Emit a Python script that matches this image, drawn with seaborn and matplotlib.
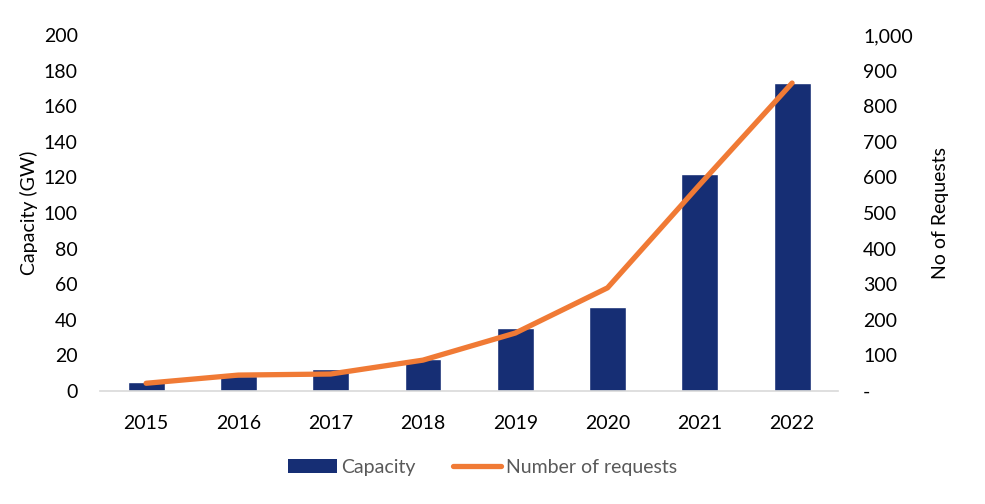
import numpy as np
import pandas as pd
import matplotlib
matplotlib.use("Agg")
import matplotlib.pyplot as plt
from matplotlib.ticker import FuncFormatter, MultipleLocator
from matplotlib.patches import Patch
from matplotlib.lines import Line2D
import seaborn as sns

years = ["2015", "2016", "2017", "2018", "2019", "2020", "2021", "2022"]
capacity_gw = [5, 8.5, 12.5, 18, 35.5, 47, 122, 173]
requests = [22, 45, 48, 87, 163, 290, 580, 865]

bar_color = "#162E74"
line_color = "#F07A35"

sns.set_theme(style="white")
plt.rcParams["font.family"] = ["Lato", "DejaVu Sans"]

df = pd.DataFrame({"year": years, "capacity": capacity_gw, "requests": requests})

fig = plt.figure(figsize=(9.85, 5.04), dpi=100)
ax = fig.add_axes([0.1015, 0.224, 0.7495, 0.7066])

FS = 14
sns.barplot(data=df, x="year", y="capacity", color=bar_color, width=0.4,
            saturation=1, ax=ax)
ax.set_ylim(0, 200)
ax.yaxis.set_major_locator(MultipleLocator(20))
ax.set_xlim(-0.5, len(years) - 0.5)
ax.set_xlabel("")
ax.set_ylabel("Capacity (GW)", fontsize=FS, color="black", labelpad=4)
ax.tick_params(axis="both", length=0, labelsize=FS, colors="black")
ax.tick_params(axis="x", pad=17)
ax.tick_params(axis="y", pad=16)
for s in ["top", "right", "left"]:
    ax.spines[s].set_visible(False)
ax.spines["bottom"].set_color("#D9D9D9")
ax.spines["bottom"].set_linewidth(1.2)

ax2 = ax.twinx()
x_pos = np.arange(len(years))
sns.lineplot(x=x_pos, y=requests, color=line_color, linewidth=3.8, ax=ax2,
             solid_capstyle="round")
ax2.set_ylim(0, 1000)
ax2.yaxis.set_major_locator(MultipleLocator(100))
ax2.yaxis.set_major_formatter(FuncFormatter(lambda v, p: "-" if v == 0 else f"{int(v):,}"))
ax2.set_ylabel("No of Requests", fontsize=FS, color="black", labelpad=14)
ax2.tick_params(axis="y", length=0, labelsize=FS, colors="black", pad=18)
for s in ["top", "right", "left", "bottom"]:
    ax2.spines[s].set_visible(False)
ax2.set_xlim(-0.5, len(years) - 0.5)

handles = [Patch(facecolor=bar_color, edgecolor="none", label="Capacity"),
           Line2D([0], [0], color=line_color, linewidth=3.8, solid_capstyle="round",
                  label="Number of requests")]
leg = fig.legend(handles=handles, loc="center", bbox_to_anchor=(0.49, 0.073), ncol=2,
                 frameon=False, fontsize=FS, handlelength=2.5, handletextpad=0.25,
                 columnspacing=1.9)
for t in leg.get_texts():
    t.set_color("#595959")

fig.savefig("out.png", dpi=100)
